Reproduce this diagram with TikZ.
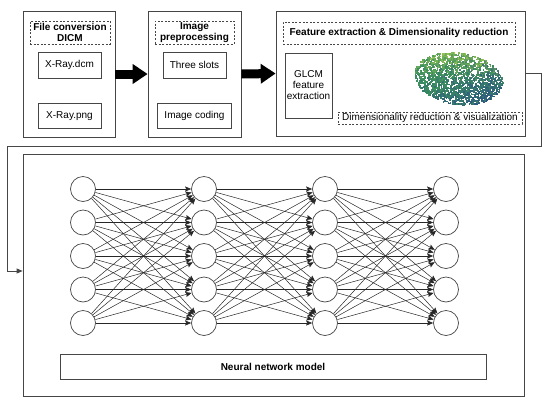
\documentclass[tikz,border=0pt]{standalone}
\usepackage{fontspec}
\setmainfont{Liberation Sans}
\usetikzlibrary{arrows.meta,positioning}

\definecolor{edgegray}{RGB}{70,70,70}
\definecolor{dotlime}{RGB}{165,205,80}
\definecolor{dotgreen}{RGB}{60,145,95}
\definecolor{dotblue}{RGB}{45,85,130}

\tikzset{
  box/.style={draw=edgegray, line width=0.7pt, rectangle, inner sep=1pt, align=center,
    font=\fontsize{10}{12}\selectfont},
  title/.style={box, dash pattern=on 2pt off 1.6pt, inner sep=0.5pt, font=\fontsize{10}{11}\selectfont\bfseries},
  neuron/.style={circle, draw=edgegray, line width=0.7pt, minimum size=25pt, inner sep=0pt},
  link/.style={-{Stealth[length=6pt,width=5pt,inset=1pt]}, line width=0.5pt, black!85},
  bigarrow/.style={line width=9pt, -{Triangle[length=15pt,width=19pt]}, black}
}

\begin{document}
\begin{tikzpicture}[x=1pt,y=-1pt]
        \useasboundingbox (0,0) rectangle (550,408);

        % top row
        \node[box, minimum width=92pt, minimum height=126pt] (fileconv) at (69,74) {};
        \node[title, minimum width=80pt, minimum height=23pt] (fctitle) at (70,32.5) {File conversion\\DICM};
        \node[box, minimum width=63pt, minimum height=26pt] (dcm) at (69.5,65) {X-Ray.dcm};
        \node[box, minimum width=63pt, minimum height=25pt] (png) [below=25pt of dcm] {X-Ray.png};

        \node[box, minimum width=93pt, minimum height=126pt] (preproc) at (194.5,74) {};
        \node[title, minimum width=79pt, minimum height=23pt] (pptitle) at (194.5,32.5) {Image\\preprocessing};
        \node[box, minimum width=63pt, minimum height=26pt] (slots) at (194.5,65) {Three slots};
        \node[box, minimum width=74pt, minimum height=25pt] (coding) [below=25pt of slots] {Image coding};

        \node[box, minimum width=249pt, minimum height=125pt] (featext) at (400.5,73.5) {};
        \node[title, minimum width=232pt, minimum height=22pt] (fetitle) at (399,33) {Feature extraction \& Dimensionality reduction};
        \node[box, minimum width=47pt, minimum height=65pt, font=\fontsize{10}{11}\selectfont] (glcm) at (308.5,85.5) {GLCM\\feature\\extraction};
        \node[title, font=\fontsize{10}{12}\selectfont, minimum width=184pt, minimum height=12pt] (dimred) at (430,118) {Dimensionality reduction \& visualization};

        % embedding scatter
        \pgfmathsetseed{11}
        \foreach \i in {1,...,1700} {
          \pgfmathsetmacro\ang{360*rnd}
          \pgfmathsetmacro\rad{sqrt(rnd)}
          \pgfmathsetmacro\px{458+44*\rad*cos(\ang)}
          \pgfmathsetmacro\py{78+26*\rad*sin(\ang)+4*\rad*cos(\ang)}
          \pgfmathtruncatemacro\lime{max(0,min(100,-75*\rad*sin(\ang)-5+70*(rnd-0.5)))}
          \pgfmathtruncatemacro\blu{max(0,min(100,25+35*\rad*(sin(\ang)+cos(\ang))+70*(rnd-0.5)))}
          \colorlet{dota}{dotlime!\lime!dotgreen}
          \colorlet{dotc}{dotblue!\blu!dota}
          \fill[dotc] (\px,\py) rectangle ++(1.8,1.8);
        }

        \draw[bigarrow] (fileconv.east) -- (preproc.west);
        \draw[bigarrow] (preproc.east) -- (featext.west);

        % network
        \node[box, minimum width=501pt, minimum height=242pt] (nnmodel) at (273.5,275) {};
        \node[title, solid, minimum width=426pt, minimum height=25pt] (nnlabel) at (273,366.5) {Neural network model};

        \foreach \c/\x in {1/83,2/204,3/325,4/446}
          \foreach \r in {1,...,5}
            \node[neuron] (n-\c-\r) at (\x,{189+33.5*(\r-1)}) {};
        \foreach \c [evaluate=\c as \d using int(\c+1)] in {1,2,3}
          \foreach \r in {1,...,5}
            \foreach \s in {1,...,5}
              \draw[link] (n-\c-\r) -- (n-\d-\s);

        \coordinate (cr) at (541,146);
        \coordinate (cl) at (7,146);
        \draw[line width=0.7pt, edgegray, -{Triangle[length=6pt,width=5pt]}] (featext.east) -| (cr) -- (cl) |- ([yshift=4pt]nnmodel.west);
\end{tikzpicture}
\end{document}
